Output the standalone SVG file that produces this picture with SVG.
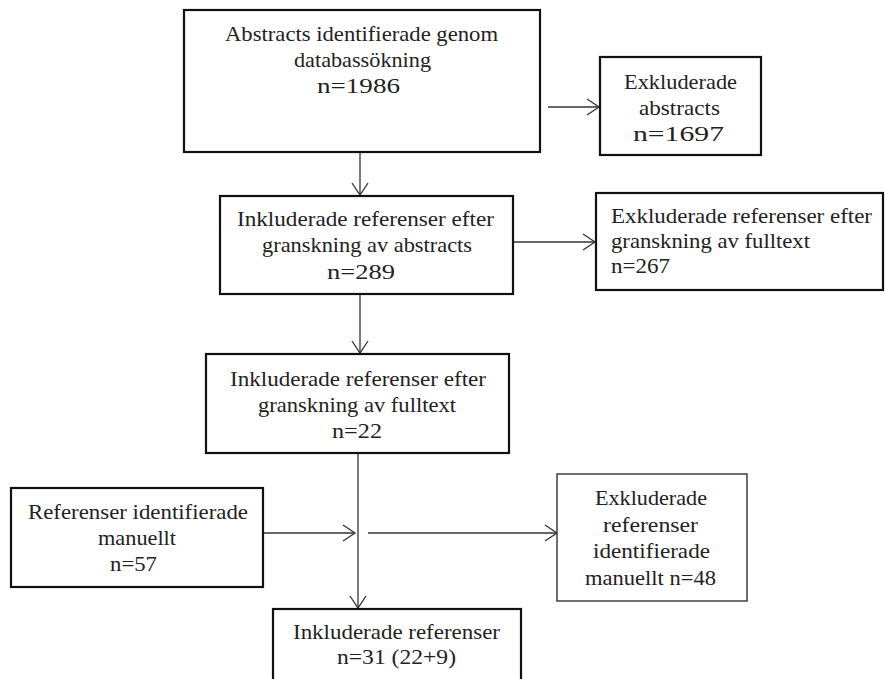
<svg xmlns="http://www.w3.org/2000/svg" width="885" height="679" viewBox="0 0 885 679">
<style>
.box{fill:#fff;stroke:#111;stroke-width:2.2}
.thin{fill:#fff;stroke:#333;stroke-width:1.4}
.t{font-family:"Liberation Serif","Times New Roman",serif;font-size:21px;fill:#222}
.conn{stroke:#333;stroke-width:1.3;fill:none}
</style>
<defs>
<marker id="arr" markerUnits="userSpaceOnUse" markerWidth="20" markerHeight="20" refX="13" refY="9" orient="auto" overflow="visible">
<path d="M1,1 L13,9 L1,17" fill="none" stroke="#333" stroke-width="1.3"/>
</marker>
</defs>
<rect width="885" height="679" fill="#fff"/>
<g id="connectors">
<line class="conn" x1="360" y1="152" x2="360" y2="195" marker-end="url(#arr)"/>
<line class="conn" x1="548" y1="107" x2="599" y2="107" marker-end="url(#arr)"/>
<line class="conn" x1="513" y1="242" x2="595" y2="242" marker-end="url(#arr)"/>
<line class="conn" x1="360" y1="294" x2="360" y2="353" marker-end="url(#arr)"/>
<line class="conn" x1="358" y1="453" x2="358" y2="608" marker-end="url(#arr)"/>
<line class="conn" x1="263" y1="533" x2="355" y2="533" marker-end="url(#arr)"/>
<line class="conn" x1="368" y1="533" x2="557" y2="533" marker-end="url(#arr)"/>
</g>
<g id="n1">
<rect class="box" x="184" y="10" width="356" height="142"/>
<text class="t" x="225" y="41" textLength="273" lengthAdjust="spacingAndGlyphs">Abstracts identifierade genom</text>
<text class="t" x="294" y="67" textLength="137" lengthAdjust="spacingAndGlyphs">databassökning</text>
<text class="t" x="317" y="93" textLength="83" lengthAdjust="spacingAndGlyphs">n=1986</text>
</g>
<g id="n3">
<rect class="box" x="600" y="57" width="161" height="98"/>
<text class="t" x="624" y="89" textLength="113" lengthAdjust="spacingAndGlyphs">Exkluderade</text>
<text class="t" x="639" y="115" textLength="81" lengthAdjust="spacingAndGlyphs">abstracts</text>
<text class="t" x="633" y="141" textLength="91" lengthAdjust="spacingAndGlyphs">n=1697</text>
</g>
<g id="n2">
<rect class="box" x="220" y="196" width="293" height="98"/>
<text class="t" x="237" y="226" textLength="257" lengthAdjust="spacingAndGlyphs">Inkluderade referenser efter</text>
<text class="t" x="262" y="252" textLength="210" lengthAdjust="spacingAndGlyphs">granskning av abstracts</text>
<text class="t" x="327" y="279" textLength="68" lengthAdjust="spacingAndGlyphs">n=289</text>
</g>
<g id="n4">
<rect class="box" x="596" y="193" width="287" height="97"/>
<text class="t" x="611" y="223" textLength="261" lengthAdjust="spacingAndGlyphs">Exkluderade referenser efter</text>
<text class="t" x="611" y="248" textLength="199" lengthAdjust="spacingAndGlyphs">granskning av fulltext</text>
<text class="t" x="611" y="273" textLength="59" lengthAdjust="spacingAndGlyphs">n=267</text>
</g>
<g id="n5">
<rect class="box" x="206" y="354" width="303" height="99"/>
<text class="t" x="230" y="386" textLength="256" lengthAdjust="spacingAndGlyphs">Inkluderade referenser efter</text>
<text class="t" x="258" y="412" textLength="198" lengthAdjust="spacingAndGlyphs">granskning av fulltext</text>
<text class="t" x="332" y="438" textLength="50" lengthAdjust="spacingAndGlyphs">n=22</text>
</g>
<g id="n6">
<rect class="box" x="11" y="488" width="252" height="99"/>
<text class="t" x="28" y="519" textLength="220" lengthAdjust="spacingAndGlyphs">Referenser identifierade</text>
<text class="t" x="98" y="545" textLength="78" lengthAdjust="spacingAndGlyphs">manuellt</text>
<text class="t" x="110" y="571" textLength="47" lengthAdjust="spacingAndGlyphs">n=57</text>
</g>
<g id="n8">
<rect class="thin" x="557" y="474" width="190" height="127"/>
<text class="t" x="595" y="505" textLength="112" lengthAdjust="spacingAndGlyphs">Exkluderade</text>
<text class="t" x="603" y="532" textLength="95" lengthAdjust="spacingAndGlyphs">referenser</text>
<text class="t" x="593" y="558" textLength="117" lengthAdjust="spacingAndGlyphs">identifierade</text>
<text class="t" x="585" y="585" textLength="131" lengthAdjust="spacingAndGlyphs">manuellt n=48</text>
</g>
<g id="n7">
<rect class="box" x="273" y="609" width="248" height="90"/>
<text class="t" x="293" y="639" textLength="207" lengthAdjust="spacingAndGlyphs">Inkluderade referenser</text>
<text class="t" x="337" y="664" textLength="119" lengthAdjust="spacingAndGlyphs">n=31 (22+9)</text>
</g>
</svg>
